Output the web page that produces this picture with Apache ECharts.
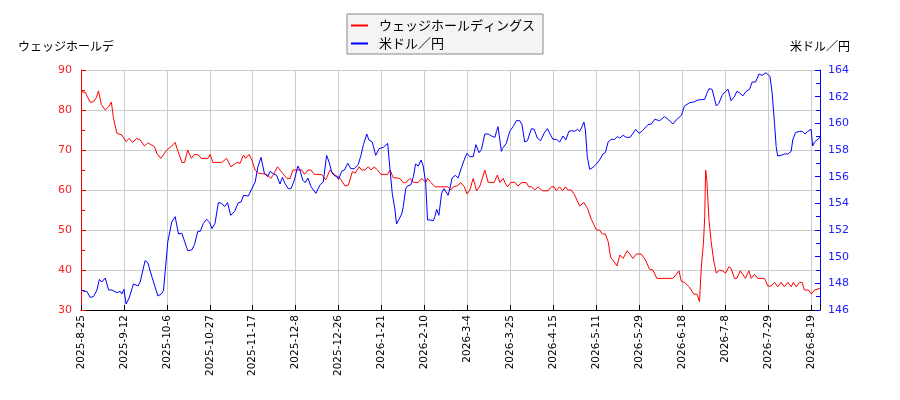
<!DOCTYPE html>
<html>
<head>
<meta charset="utf-8">
<script src="https://cdn.jsdelivr.net/npm/echarts@6/dist/echarts.min.js"></script>
<style>
  html, body { margin: 0; padding: 0; background: #fff; }
  #main { width: 900px; height: 400px; }
</style>
</head>
<body>
<div id="main"></div>
<script>
// x軸のラベル（14営業日ごと）
var dateLabels = ['2025-8-25', '2025-9-12', '2025-10-6', '2025-10-27', '2025-11-17', '2025-12-8',
  '2025-12-26', '2026-1-21', '2026-2-10', '2026-3-4', '2026-3-25', '2026-4-15', '2026-5-11',
  '2026-5-29', '2026-6-18', '2026-7-8', '2026-7-29', '2026-8-19'];

// ウェッジホールディングス（営業日インデックス, 株価）
var stockDay = [0, 0.5, 1.4, 3, 4.1, 5, 5.7, 6.6, 7.9, 9, 9.9, 10.6, 11.7, 13.3, 14.7, 15.7, 16.8, 18.2, 19.3, 20.7,
  21.8, 24, 24.7, 26, 28, 29.6, 30.7, 31.3, 32.9, 33.8, 34.8, 36, 37, 38.3, 39.2, 41.4, 42.1, 43, 45.9, 47.5,
  48.9, 50.8, 51.9, 53, 53.7, 54.8, 55.7, 56.8, 57.9, 60.6, 61.9, 62.8, 64.1, 65.5, 67.1, 68.2, 69.1, 72, 72.9, 74,
  75, 76.1, 78.5, 79.8, 81.2, 82.6, 84.5, 86.1, 87.2, 88.5, 89.4, 90.7, 91.5, 92.6, 93.7, 94.6, 95.6, 96.7, 97.8, 100,
  100.8, 101.8, 104, 105.1, 105.9, 107.3, 108.4, 110, 111.1, 112.4, 113, 114.1, 115.4, 119.7, 120.6, 121.4, 122.5, 123.9, 125, 125.9,
  126.8, 127.9, 129, 130.1, 131.7, 132.8, 134.7, 135.8, 136.6, 137.7, 138.2, 139.1, 140.2, 141.5, 142.5, 143.8, 145.3, 146, 146.9, 148,
  149.1, 150.4, 152.3, 153.4, 154.3, 155, 156.1, 157, 158, 158.8, 159.9, 161, 162.6, 164, 165.3, 166.4, 168.1, 169.1, 170, 171,
  171.9, 172.7, 173.8, 174.8, 175.7, 176.8, 178.1, 179, 180, 181.1, 182.7, 184.1, 185.4, 186.5, 187.8, 193, 194.1, 195, 195.8, 196.8,
  198.3, 199.8, 200.9, 201.7, 202.3, 203, 203.4, 203.7, 204.1, 204.8, 205.5, 206.3, 207.2, 208.2, 209.3, 210.2, 211.3, 212, 213.1, 213.9,
  215, 215.8, 216.7, 217.8, 218.6, 219.6, 220.7, 222.9, 224, 225.1, 226.2, 227.2, 228.3, 229.4, 230.5, 231.6, 232.3, 233.2, 234.3, 235.2,
  235.9, 237.3, 238.1, 239.2, 241];
var stockPrice = [84.6, 85, 84.4, 81.9, 82.1, 83.1, 84.8, 81.4, 80, 80.8, 82, 77.9, 74.2, 73.75, 72.1, 72.9, 71.9, 72.9, 72.5, 71,
  71.8, 70.8, 69.2, 67.9, 70, 71, 71.9, 70.4, 66.9, 66.9, 70, 67.9, 68.9, 68.75, 67.9, 67.9, 68.9, 66.9, 66.9, 67.9,
  65.8, 66.9, 66.7, 68.75, 67.9, 68.9, 67.5, 65, 64.2, 63.9, 62.9, 63.9, 65.8, 64.4, 62.9, 62.9, 65, 65, 63.9, 65,
  65, 63.9, 63.9, 62.5, 65, 63.9, 62.9, 61, 61.25, 64.6, 64.2, 65.8, 65, 65, 65.8, 65, 65.8, 65, 63.9, 63.9,
  65, 63.1, 62.9, 61.8, 61.8, 62.9, 61.9, 61.9, 62.9, 61.9, 62.9, 61.9, 60.8, 60.8, 60, 60.8, 61, 61.8, 60.8, 59,
  60, 62.9, 59.8, 61, 65, 61.9, 61.9, 63.75, 61.9, 62.9, 61.9, 60.8, 61.9, 61.9, 61, 61.9, 61.8, 60.8, 60.8, 60,
  60.8, 59.8, 59.8, 60.8, 60.8, 59.8, 60.8, 59.8, 60.8, 60, 60, 58.75, 56, 56.9, 55.2, 52.7, 50, 50, 49, 49,
  47.1, 43.2, 42.1, 41, 43.75, 42.9, 44.8, 44, 42.9, 44, 44, 42.5, 40.2, 40, 37.9, 37.9, 38.9, 39.8, 37.1, 36.9,
  35.8, 34, 33.9, 32.1, 40.8, 46.8, 53.3, 65, 62.5, 52.5, 47.1, 42.5, 39.2, 40, 39.75, 39.2, 40.8, 40.4, 37.9, 37.9,
  39.8, 38.9, 37.9, 39.8, 37.9, 38.9, 37.9, 37.9, 36, 36, 36.9, 35.8, 36.9, 35.8, 36.9, 35.8, 36.9, 35.8, 36.9, 36.9,
  35, 35, 34, 35, 35.4];

// 米ドル／円（営業日インデックス, レート）
var fxDay = [0, 0.9, 1.9, 3, 4.1, 5.2, 6, 6.8, 7.9, 9, 10.1, 11.7, 12.8, 13.3, 14, 14.7, 15.7, 17.1, 18.6, 19.3,
  20.9, 21.8, 23.1, 25.1, 26.2, 26.9, 27.5, 28.3, 29.6, 30.7, 31.8, 32.9, 34.8, 36.1, 37, 38.1, 38.9, 39.9, 41, 41.9,
  42.7, 43.7, 44.8, 45.9, 46.8, 47.8, 48.8, 50.1, 51.3, 52.2, 53, 54.6, 55.7, 56.8, 57.7, 58.7, 59.8, 60.9, 61.7, 62.8,
  63.8, 64.9, 65.7, 66.5, 67.6, 68.5, 69.6, 70.7, 71.4, 72.3, 73.1, 74, 75, 76.6, 78, 79, 80.1, 80.9, 81.8, 82.5,
  83.4, 84, 85, 85.9, 87, 88, 89.1, 90.4, 91.3, 92.1, 93.2, 93.9, 95, 96.1, 97.2, 98.6, 100, 100.8, 101.5, 102.4,
  102.9, 103.7, 104.6, 105.1, 105.9, 106.5, 107.6, 108.4, 109.1, 110, 110.9, 111.6, 112.4, 113, 113.8, 114.9, 115.4, 116, 116.7, 117.6,
  118.4, 119, 119.7, 120.3, 121, 122.1, 123, 124.1, 125.2, 125.9, 126.8, 127.9, 128.8, 129.8, 130.6, 131.7, 132.8, 133.9, 135, 135.5,
  136, 136.6, 137.1, 137.4, 138.7, 139.8, 140.9, 142, 143.1, 143.8, 144.7, 145.6, 146.9, 147.8, 148.8, 149.9, 151, 152.1, 153.2, 153.9,
  155, 156.1, 157.2, 158.1, 159.1, 160.1, 161, 161.9, 162.6, 163.4, 164, 164.5, 165.1, 165.9, 167, 168.1, 169.1, 170.2, 171, 171.9,
  172.9, 174, 174.9, 175.7, 176.8, 177.8, 179.1, 180.9, 182, 183.1, 184.9, 186, 187.1, 188.7, 190.3, 191.7, 193, 194.1, 195.8, 196.8,
  198.5, 199.8, 201.2, 203.4, 204.1, 204.8, 205.8, 207.2, 208, 209.1, 210.2, 211, 212, 213.1, 213.9, 215, 215.8, 216.9, 218, 218.9,
  220, 221.1, 222.1, 223.4, 224, 224.7, 225.4, 226.2, 226.7, 227.2, 228.3, 229.4, 230.5, 231.6, 232.1, 233, 234.3, 235.2, 236.1, 237,
  238.1, 238.6, 239.2, 241];
var fxRate = [147.55, 147.4, 147.4, 146.95, 147, 147.5, 148.3, 148.1, 148.4, 147.5, 147.5, 147.3, 147.4, 147.2, 147.55, 146.45, 146.9, 147.95, 147.8, 148.1,
  149.7, 149.55, 148.5, 147.05, 147.2, 147.45, 149, 151.1, 152.6, 153, 151.7, 151.75, 150.45, 150.5, 150.9, 151.9, 151.9, 152.5, 152.8, 152.6,
  152.1, 152.5, 154.05, 154, 153.75, 154.05, 153.1, 153.4, 154.05, 154.1, 154.6, 154.55, 155.1, 155.6, 156.75, 157.45, 156.25, 156, 156.4, 156.2,
  156.1, 155.45, 155.95, 155.5, 155.1, 155.1, 155.75, 156.8, 156.5, 155.75, 155.55, 155.9, 155.25, 154.75, 155.4, 155.6, 157.6, 157.1, 156.3, 156.1,
  156, 155.8, 156.4, 156.5, 157, 156.6, 156.6, 156.9, 157.6, 158.4, 159.2, 158.75, 158.6, 157.6, 158.1, 158.2, 158.5, 156.5, 154.75, 153.5,
  152.45, 152.8, 153.2, 153.75, 155.1, 155.3, 155.4, 156, 156.95, 156.8, 157.25, 156.8, 155.55, 152.75, 152.75, 152.7, 153, 153.55, 153.1, 154.75,
  155.1, 155, 154.6, 155.1, 155.9, 156.1, 155.9, 156.7, 157.4, 157.75, 157.5, 157.5, 158.4, 157.8, 158.05, 159.2, 159.2, 159.05, 158.95, 159.4,
  159.75, 158.75, 157.9, 158.1, 158.5, 159.4, 159.75, 160.2, 160.2, 159.9, 158.6, 158.7, 159.6, 159.55, 158.9, 158.7, 159.25, 159.6, 159.1, 158.8,
  158.8, 158.6, 159.05, 158.75, 159.4, 159.45, 159.4, 159.55, 159.4, 159.75, 160.1, 159.5, 157.5, 156.55, 156.7, 156.95, 157.25, 157.7, 157.8, 158.6,
  158.8, 158.8, 159, 158.9, 159.1, 158.95, 158.95, 159.55, 159.25, 159.45, 159.9, 159.95, 160.3, 160.2, 160.5, 160.25, 159.95, 160.25, 160.6, 161.3,
  161.55, 161.6, 161.75, 161.8, 162.25, 162.6, 162.55, 161.3, 161.5, 162.1, 162.4, 162.55, 161.7, 162, 162.4, 162.25, 162.05, 162.4, 162.55, 163.1,
  163.1, 163.7, 163.6, 163.8, 163.8, 163.5, 162.25, 159.9, 158.25, 157.55, 157.6, 157.7, 157.7, 157.9, 158.75, 159.3, 159.4, 159.4, 159.2, 159.4,
  159.55, 158.3, 158.6, 158.95];

function pairs(xs, ys) {
  var out = [];
  for (var i = 0; i < xs.length; i++) {
    out.push([xs[i], ys[i]]);
  }
  return out;
}

var myChart = echarts.init(document.getElementById('main'), null, { renderer: 'canvas' });
var gridColor = '#cccccc';
var option = {
  animation: false,
  backgroundColor: '#fff',
  textStyle: { fontFamily: 'DejaVu Sans' },
  legend: {
    left: 347,
    top: 14,
    orient: 'vertical',
    backgroundColor: '#f4f4f4',
    borderColor: '#888',
    borderWidth: 1,
    borderRadius: 0,
    padding: [5, 8, 4, 4],
    itemGap: 5,
    itemWidth: 17,
    itemHeight: 2,
    icon: 'rect',
    textStyle: { fontSize: 13, lineHeight: 13, color: '#000', fontFamily: 'Noto Sans CJK JP', padding: [0, 0, 0, 6] },
    data: ['ウェッジホールディングス', '米ドル／円']
  },
  grid: { left: 81, right: 80, top: 70, bottom: 90 },
  xAxis: {
    type: 'value',
    min: 0,
    max: 241,
    interval: 14,
    axisLine: { show: true, lineStyle: { color: '#000', width: 1 } },
    axisTick: { show: true, inside: true, length: 5, lineStyle: { color: '#000' } },
    axisLabel: {
      rotate: 90,
      fontSize: 10.5,
      color: '#000',
      margin: 5,
      fontFamily: 'DejaVu Sans',
      formatter: function (v) {
        var k = v / 14;
        return dateLabels[k] !== undefined && Math.round(k) === k ? dateLabels[k] : '';
      }
    },
    splitLine: { show: true, lineStyle: { color: gridColor, width: 1 } }
  },
  yAxis: [
    {
      type: 'value',
      position: 'left',
      min: 30,
      max: 90,
      interval: 10,
      name: 'ウェッジホールデ',
      nameLocation: 'end',
      nameGap: 18,
      nameTextStyle: { color: '#000', fontSize: 12, fontFamily: 'Noto Sans CJK JP', align: 'center', padding: [0, 30, 0, 0] },
      axisLine: { show: true, lineStyle: { color: '#ff0000', width: 1 } },
      axisTick: { show: true, inside: true, length: 5 },
      minorTick: { show: true, splitNumber: 2, length: 4, lineStyle: { color: '#ff0000' } },
      axisLabel: { color: '#ff2020', fontSize: 11, margin: 9, fontFamily: 'DejaVu Sans' },
      splitLine: { show: true, lineStyle: { color: gridColor, width: 1 } }
    },
    {
      type: 'value',
      position: 'right',
      min: 146,
      max: 164,
      interval: 2,
      name: '米ドル／円',
      nameLocation: 'end',
      nameGap: 18,
      nameTextStyle: { color: '#000', fontSize: 12, fontFamily: 'Noto Sans CJK JP', align: 'center' },
      axisLine: { show: true, lineStyle: { color: '#0000ff', width: 1 } },
      axisTick: { show: true, inside: true, length: 5 },
      minorTick: { show: true, splitNumber: 2, length: 4, lineStyle: { color: '#0000ff' } },
      axisLabel: { color: '#2020ff', fontSize: 11, margin: 8, fontFamily: 'DejaVu Sans' },
      splitLine: { show: false }
    }
  ],
  series: [
    {
      name: 'ウェッジホールディングス',
      type: 'line',
      yAxisIndex: 0,
      showSymbol: false,
      symbol: 'none',
      color: '#ff0000',
      lineStyle: { color: '#ff0000', width: 1 },
      data: pairs(stockDay, stockPrice)
    },
    {
      name: '米ドル／円',
      type: 'line',
      yAxisIndex: 1,
      showSymbol: false,
      symbol: 'none',
      color: '#0000ff',
      lineStyle: { color: '#0000ff', width: 1 },
      data: pairs(fxDay, fxRate)
    }
  ]
};
myChart.setOption(option);
</script>
</body>
</html>
